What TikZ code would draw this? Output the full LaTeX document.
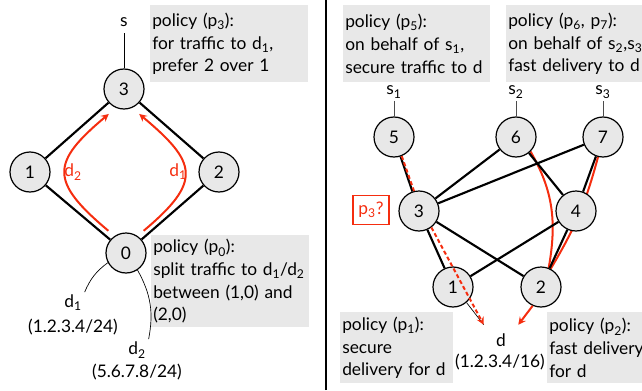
\documentclass[tikz,border=0pt]{standalone}
\usepackage{fontspec}
\setmainfont{Lato}
\usetikzlibrary{shapes.geometric, arrows, backgrounds}
\definecolor{pathred}{RGB}{245,45,15}
\definecolor{boxgray}{RGB}{232,232,232}
\tikzstyle{router} = [circle, 
draw=black, 
line width=0.9pt, 
fill=boxgray, 
minimum size=30pt, 
inner sep=0pt]
\tikzstyle{policy} = [rectangle, 
fill=boxgray, 
anchor=north west, 
align=left, 
inner xsep=1.5pt, 
inner ysep=0pt]
\tikzstyle{link} = [line width=1.6pt]
\tikzstyle{wire} = [line width=0.5pt]
\tikzstyle{route} = [line width=1.5pt, draw=pathred]
\tikzstyle{arrow} = [route, ->, >=stealth]

\begin{document}
\begin{tikzpicture}[x=0.75pt, y=0.75pt, font=\fontsize{13}{17}\selectfont]
\useasboundingbox (0,0) rectangle (642,390);

% left: split routing at 0, preference at 3
\node (s) [inner sep=2pt] at (124,368) {s};
\node (n3) [router] at (124,301) {3};
\node (n1) [router] at (30,218) {1};
\node (n2) [router] at (219,218) {2};
\node (n0) [router] at (126,137) {0};
\node (d1) [inner sep=2pt] at (73,87) {d\textsubscript{1}};
\node (pfx1) [inner sep=0pt] at (73,63) {(1.2.3.4/24)};
\node (d2) [inner sep=2pt] at (137,40) {d\textsubscript{2}};
\node (pfx2) [inner sep=0pt] at (137,18) {(5.6.7.8/24)};

\node (p3) [policy, text width=115.5pt, minimum height=57.75pt] at (150,385)
{policy (p\textsubscript{3}):\\for traffic to d\textsubscript{1},\\prefer 2 over 1};
\node (p0) [policy, text width=115.5pt, minimum height=69pt] at (151,155)
{policy (p\textsubscript{0}):\\split traffic to d\textsubscript{1}/d\textsubscript{2}\\between (1,0) and\\(2,0)};

\draw [wire, shorten <=3pt] (s) -- (n3);
\draw [link] (n3) -- (n1);
\draw [link] (n3) -- (n2);
\draw [link] (n1) -- (n0);
\draw [link] (n2) -- (n0);
\draw [wire] (n0.-152) to[bend right=15] (d1.north east);
\draw [wire] (n0.-56) to[bend left=20] (d2.north east);

\draw [arrow, shorten <=6pt, shorten >=7pt] (n0.124) .. controls +(140:85) and +(-140:85) .. (n3.-113);
\draw [arrow, shorten <=6pt, shorten >=7pt] (n0.56) .. controls +(40:85) and +(-40:85) .. (n3.-67);
\node (r2) [text=pathred] at (73,218) {d\textsubscript{2}};
\node (r1) [text=pathred] at (178,218) {d\textsubscript{1}};

\draw [line width=0.8pt] (326,0) -- (326,390);

% right: per-source policies towards d
\node (p5) [policy, text width=107pt, minimum height=57.75pt] at (343,385)
{policy (p\textsubscript{5}):\\on behalf of s\textsubscript{1},\\secure traffic to d};
\node (p67) [policy, text width=130pt, minimum height=57.75pt] at (506,385)
{policy (p\textsubscript{6}, p\textsubscript{7}):\\on behalf of s\textsubscript{2},s\textsubscript{3},\\fast delivery to d};
\node (p1) [policy, text width=81.75pt, minimum height=53.25pt] at (340,78)
{policy (p\textsubscript{1}):\\secure\\delivery for d};
\node (p2) [policy, text width=80pt, minimum height=53.25pt] at (547,78)
{policy (p\textsubscript{2}):\\fast delivery\\for d};

\node (s1) [inner sep=2pt] at (394,298) {s\textsubscript{1}};
\node (s2) [inner sep=2pt] at (516,298) {s\textsubscript{2}};
\node (s3) [inner sep=2pt] at (603,298) {s\textsubscript{3}};
\node (m5) [router] at (394,253) {5};
\node (m6) [router] at (516,253) {6};
\node (m7) [router] at (603,253) {7};
\node (m3) [router] at (419,179) {3};
\node (m4) [router] at (576,179) {4};
\node (m1) [router] at (453,103) {1};
\node (m2) [router] at (541,103) {2};
\node (d) [inner sep=0pt, minimum width=25.5pt, minimum height=22.5pt] at (501,50) {d};
\node (pfx) [inner sep=0pt] at (500,28) {(1.2.3.4/16)};
\node (ask) [rectangle, draw=pathred, line width=0.8pt, text=pathred, minimum width=27pt, minimum height=21.75pt, inner sep=0pt] at (371,180) {p\textsubscript{3}?};

\draw [wire, draw=black!70] (s1) -- (m5);
\draw [wire, draw=black!70] (s2) -- (m6);
\draw [wire, draw=black!70] (s3) -- (m7);

\begin{scope}[on background layer]
\draw [route] (m6.-45) to[out=-60, in=80] (m2.68);
\draw [route] (m7.-104) to[bend left=8] (m2.62);
\end{scope}

\draw [link] (m5) -- (m3);
\draw [link] (m6) -- (m3);
\draw [link] (m7) -- (m3);
\draw [link] (m3) -- (m1);
\draw [link] (m3) -- (m2);
\draw [link] (m4) -- (m1);
\draw [link] (m6) -- (m4);
\draw [link] (m7) -- (m4);
\draw [link] (m4) -- (m2);
\draw [wire] (m1.-49) -- (d.north west);

\draw [route, dash pattern=on 3pt off 2pt] (m5.-68) -- (m3.104);
\draw [arrow, dash pattern=on 3pt off 2pt] (m3.-53) -- (d.north west);
\draw [arrow] (m2.-114) -- (d.north east);

\end{tikzpicture}
\end{document}
